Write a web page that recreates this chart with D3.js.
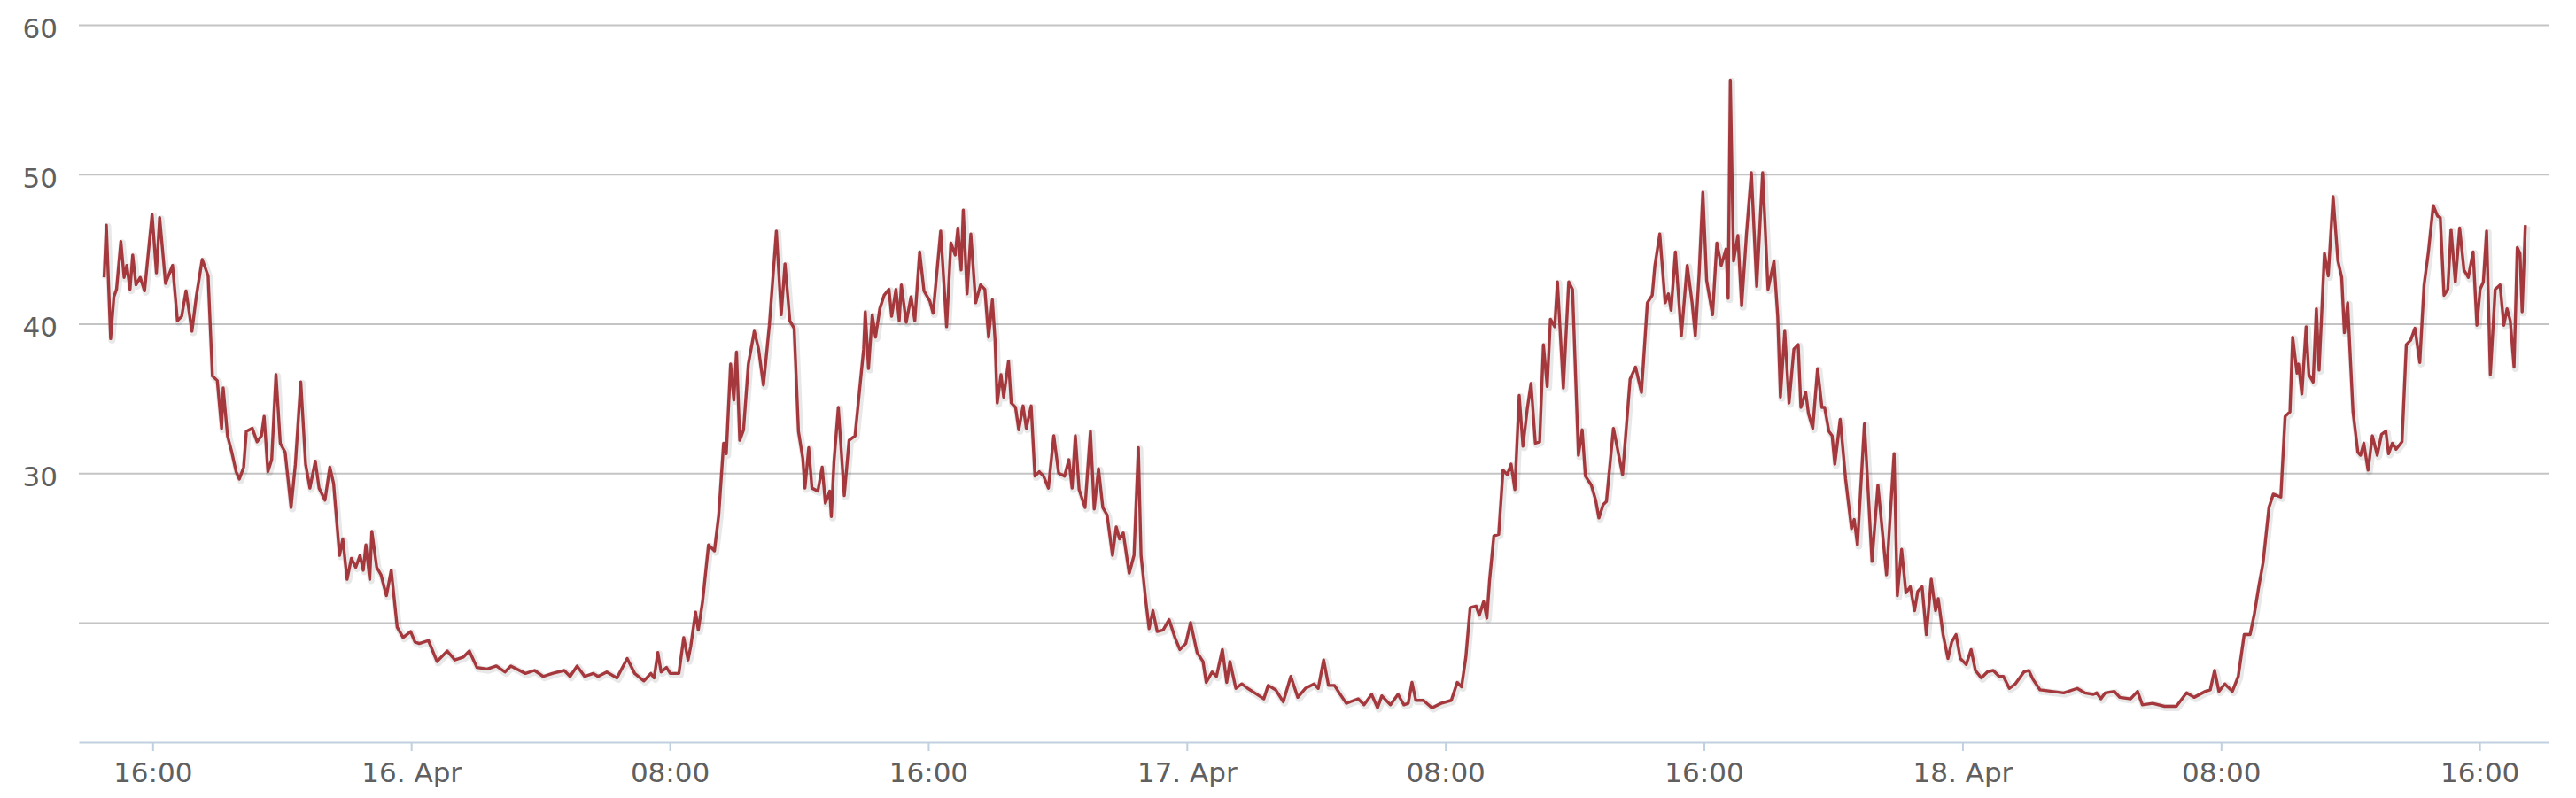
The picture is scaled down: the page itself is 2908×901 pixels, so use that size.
<!DOCTYPE html>
<html><head><meta charset="utf-8">
<script src="https://cdn.jsdelivr.net/npm/d3@7"></script>
<style>html,body{margin:0;padding:0;background:#fff;} svg{display:block;}</style>
</head><body>
<svg id="chart" width="2908" height="901"></svg>
<script>
// ---- data ----
const seriesStart = "2014-04-15 14:30";
// minutes since seriesStart
const minutes = [
0,4,12,18,23,31,37,42,48,53,59,67,75,89,97,103,114,127,136,144,152,163,171,182,193,201,210,218,221,229,237,245,251,259,264,275,284,292,297,304,311,319,327,336,347,355,365,374,382,392,399,410,419,426,437,443,451,459,467,475,481,486,493,497,506,514,524,533,544,555,569,577,585,602,618,637,651,667,678,692,711,728,744,
755,782,799,815,832,854,865,878,892,908,917,933,952,971,985,1002,1015,1021,1028,1034,1044,1051,1067,1076,1084,1089,1098,1103,1111,1122,1133,1141,1150,1155,1163,1169,1174,1180,1187,1196,1207,1215,1224,1235,1248,1257,1264,1273,1281,1289,1297,1301,1308,1314,1325,1333,1339,1347,1350,1355,1363,1374,1383,1394,1402,1410,1413,1419,1426,1432,1440,1448,1457,1462,1470,1476,1480,1489,1498,1505,1514,1522,1533,
1539,1553,1564,1572,1580,1585,1591,1595,1602,1609,1618,1627,1635,1642,1649,1654,1658,1665,1670,1679,1684,1692,1698,1706,1712,1721,1728,1736,1744,1753,1763,1772,1783,1791,1797,1803,1810,1821,1831,1838,1846,1854,1862,1872,1879,1885,1892,1903,1912,1920,1925,1934,1940,1947,1955,1966,1977,1988,1997,2008,2017,2029,2040,2046,2057,2065,2076,2084,2090,2101,2112,2123,2136,2153,2161,2175,2189,2203,2216,2230,2246,2254,2264,2273,2284,2293,2306,
2328,2339,2353,2364,2372,2388,2402,2413,2421,2428,2435,2449,2465,2482,2501,2512,2520,2528,2536,2547,2553,2561,2567,2572,2580,2589,2597,2605,2612,2619,2627,2634,2642,2649,2657,2665,2672,2679,2685,2693,2698,2709,2719,2726,2737,2744,2750,2761,2769,2775,2783,2789,2802,2819,2833,2843,2854,2865,2874,2879,2888,2898,2904,2909,2917,2928,2939,2948,2954,2961,2968,2975,2986,2994,3002,3011,3015,3019,3025,3033,3040,3049,3058,3068,3079,3089,3100,3107,3112,
3120,3128,3137,3145,3150,3159,3164,3172,3181,3189,3194,3202,3208,3213,3223,3233,3244,3249,3255,3268,3282,3293,3309,3323,3329,3337,3345,3353,3361,3367,3375,3383,3392,3400,3405,3414,3423,3430,3438,3446,3457,3466,3474,3485,3496,3507,3518,3526,3537,3548,3556,3564,3573,3581,3594,3616,3638,3663,3677,3693,3699,3707,3715,3732,3742,3762,3775,3784,3803,3825,3847,3866,3880,3901,
3910,3918,3926,3937,3951,3962,3973,3984,3992,4000,4008,4019,4027,4041,4049,4058,4063,4071,4074,4080,4088,4093,4101,4107,4112,4122,4129,4138,4147,4154,4159,4165,4175,4184,4189,4195,4203,4211,4220,4228,4236,4241,4248,4255,4266,4274,4282,4290,4299,4307,4315,4324,4332,4337,4344,4351,4357,4365,4373,4381,4389,4398,4405,4411,4417,4423,4430,4439,4448,4455,4461,4467,4474,4480,4485,4489,4495
];
const values = [
43.1,46.6,39.0,41.8,42.3,45.5,43.1,43.9,42.3,44.6,42.6,43.1,42.2,47.3,43.4,47.1,42.7,43.9,40.2,40.5,42.2,39.5,41.8,44.3,43.2,36.5,36.2,33.0,35.7,32.5,31.4,30.1,29.6,30.4,32.8,33.0,32.1,32.5,33.8,30.1,30.9,36.6,32.0,31.4,27.7,30.6,36.1,30.6,29.0,30.8,29.0,28.2,30.4,29.3,24.5,25.6,22.9,24.3,23.7,24.5,23.5,25.2,22.9,26.1,23.7,23.2,21.8,23.5,19.7,19.0,19.4,18.7,18.6,18.8,17.4,18.1,17.5,17.7,18.1,17.0,16.9,17.1,16.7,
17.1,16.6,16.8,16.4,16.6,16.8,16.4,17.1,16.4,16.6,16.4,16.7,16.3,17.6,16.6,16.1,16.6,16.3,18.0,16.7,17.0,16.6,16.6,19.0,17.5,18.4,20.7,19.5,21.4,25.2,24.8,27.2,32.0,31.3,37.3,34.9,38.1,32.2,32.9,37.3,39.5,38.3,35.9,39.9,46.2,40.6,44.0,40.2,39.7,32.8,31.0,29.0,31.7,29.0,28.8,30.4,28.0,28.8,27.1,30.8,34.4,28.5,32.2,32.5,35.4,38.3,40.8,37.0,40.6,39.1,41.0,41.9,42.3,40.5,42.3,40.2,42.6,40.1,41.8,40.2,44.8,42.2,41.5,
40.7,46.2,39.8,45.4,44.6,46.4,43.6,47.6,42.0,46.0,41.4,42.6,42.3,39.1,41.6,38.9,34.7,36.6,35.1,37.5,34.7,34.4,32.9,34.5,33.0,34.5,29.8,30.1,29.8,29.0,32.5,30.0,29.8,30.9,29.0,32.5,28.9,27.7,32.8,27.6,30.3,27.7,27.2,24.5,26.4,25.6,26.0,23.3,24.5,31.7,24.5,21.4,19.6,20.8,19.4,19.5,20.2,19.0,18.2,18.6,20.0,18.0,17.4,16.0,16.7,16.4,18.2,16.0,17.4,15.6,15.9,15.6,15.3,14.9,15.8,15.5,14.7,16.4,15.0,15.6,15.9,15.6,17.5,15.8,15.8,15.3,14.6,
14.9,14.5,15.2,14.3,15.1,14.5,15.2,14.5,14.6,16.0,14.8,14.8,14.3,14.6,14.8,16.0,15.7,17.7,21.0,21.1,20.5,21.4,20.3,22.8,25.8,25.9,30.2,29.9,30.6,28.9,35.2,31.8,34.3,36.0,32.0,32.1,38.6,35.8,40.3,39.8,42.8,35.7,42.8,42.3,31.2,32.9,29.8,29.2,28.2,27.0,27.9,28.1,33.0,29.9,36.3,37.1,35.4,41.4,41.9,43.9,46.0,41.4,42.0,40.9,44.8,39.2,43.9,41.4,39.2,43.3,48.8,42.9,40.6,45.4,43.9,45.0,41.7,56.3,44.2,45.9,41.2,46.0,50.1,42.5,50.1,42.3,44.2,40.5,35.1,
39.5,34.7,38.3,38.6,34.4,35.4,34.0,33.0,37.0,34.4,34.4,32.8,32.5,30.6,33.6,29.6,26.3,26.9,25.2,33.3,24.1,29.2,23.2,31.3,21.8,24.9,22.0,22.4,20.8,22.1,22.4,19.2,22.9,20.8,21.6,19.2,17.6,18.7,19.2,17.6,17.2,18.2,16.8,16.3,16.7,16.8,16.4,16.4,15.6,15.9,16.3,16.7,16.8,16.2,15.5,15.4,15.3,15.6,15.3,15.2,15.3,14.9,15.3,15.4,15.0,14.9,15.4,14.5,14.6,14.4,14.4,15.3,15.0,15.4,
15.5,16.8,15.4,15.9,15.4,16.4,19.2,19.2,20.6,22.4,24.0,27.7,28.6,28.4,33.8,34.1,39.1,36.7,37.3,35.3,39.8,36.6,36.1,41.0,36.9,44.7,43.2,48.5,44.2,43.1,39.4,41.4,34.1,31.4,31.2,32.0,30.2,32.5,31.2,32.6,32.8,31.3,32.0,31.6,32.1,38.6,38.9,39.7,37.4,42.6,44.8,47.9,47.2,47.1,41.9,42.3,46.3,42.8,46.4,43.6,43.1,44.8,39.9,42.3,42.8,46.2,36.6,42.3,42.6,39.9,41.0,40.2,37.1,45.1,44.7,40.8,46.6
];
const xExtent = ["2014-04-15 13:43", "2014-04-18 18:08"];
const yExtent = [12, 60];
const yTicks = [20, 30, 40, 50, 60];
const yTickLabels = ["", "30", "40", "50", "60"];
const xTicks = ["2014-04-15 16:00","2014-04-16 00:00","2014-04-16 08:00","2014-04-16 16:00","2014-04-17 00:00",
                "2014-04-17 08:00","2014-04-17 16:00","2014-04-18 00:00","2014-04-18 08:00","2014-04-18 16:00"];
const xTickLabels = ["16:00","16. Apr","08:00","16:00","17. Apr","08:00","16:00","18. Apr","08:00","16:00"];

// ---- drawing ----
(function () {
  const parse = d3.timeParse("%Y-%m-%d %H:%M");
  const start = parse(seriesStart);
  const data = minutes.map((m, i) => ({ date: d3.timeMinute.offset(start, m), value: values[i] }));

  const plotL = 89, plotR = 2877, plotT = 28, plotB = 838;
  const svg = d3.select("#chart");
  const font = "'DejaVu Sans', Verdana, sans-serif";

  const x = d3.scaleTime().domain(xExtent.map(parse)).range([plotL, plotR]);
  const y = d3.scaleLinear().domain(yExtent).range([plotB, plotT]);

  // y grid + labels
  const gy = svg.append("g").attr("transform", `translate(${plotL},0)`)
    .call(d3.axisLeft(y).tickValues(yTicks).tickSize(-(plotR - plotL)).tickPadding(24)
      .tickFormat((d, i) => yTickLabels[i]));
  gy.select(".domain").remove();
  gy.selectAll(".tick line").attr("stroke", "#c4c4c4").attr("stroke-width", 2);
  gy.selectAll(".tick text").attr("fill", "#606060").attr("font-size", 31).attr("font-family", font).attr("dy", "0.46em");

  // x axis
  const gx = svg.append("g").attr("transform", `translate(0,${plotB})`)
    .call(d3.axisBottom(x).tickValues(xTicks.map(parse)).tickSize(10).tickSizeOuter(0).tickPadding(13)
      .tickFormat((d, i) => xTickLabels[i]));
  gx.select(".domain").attr("stroke", "#c0d0e0").attr("stroke-width", 2);
  gx.selectAll(".tick line").attr("stroke", "#c0d0e0").attr("stroke-width", 2);
  gx.selectAll(".tick text").attr("fill", "#606060").attr("font-size", 31).attr("font-family", font);

  // series (with soft Highcharts-like shadow)
  const line = d3.line().x(d => x(d.date)).y(d => y(d.value));
  svg.append("path").datum(data).attr("d", line).attr("fill", "none")
    .attr("stroke", "rgba(0,0,0,0.09)").attr("stroke-width", 8).attr("stroke-linejoin", "round")
    .attr("transform", "translate(1.5,1.5)");
  svg.append("path").datum(data).attr("d", line).attr("fill", "none")
    .attr("stroke", "#a5383c").attr("stroke-width", 3.4).attr("stroke-linejoin", "round");
})();
</script>
</body></html>
